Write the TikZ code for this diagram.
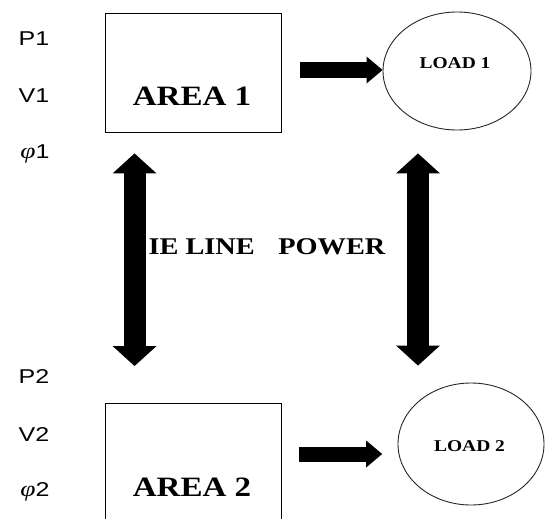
\documentclass[tikz,border=0pt]{standalone}
\usepackage{fontspec}
\usepackage{graphicx}
\setmainfont{Liberation Serif}
\setsansfont{Liberation Sans}
\usetikzlibrary{arrows.meta,shapes.geometric,calc}
\newcommand{\strx}[1]{\scalebox{1.18}[1]{#1}}
\newcommand{\strs}[1]{\scalebox{1.25}[1]{#1}}
\newcommand{\phig}{{\rmfamily\itshape\fontsize{22}{22}\selectfont φ}}
\tikzset{
  box/.style={draw, line width=0.9pt, minimum width=176pt, inner sep=0pt},
  ell/.style={draw, ellipse, line width=0.9pt, inner sep=0pt, draw=black!85},
  bigtxt/.style={font=\bfseries\fontsize{28}{28}\selectfont, inner sep=0pt},
  midtxt/.style={font=\bfseries\fontsize{24}{24}\selectfont, inner sep=0pt},
  smalltxt/.style={font=\bfseries\fontsize{16.5}{16.5}\selectfont, inner sep=0pt},
  vartxt/.style={font=\sffamily\fontsize{20}{20}\selectfont, inner sep=0pt},
  harrow/.style={line width=15pt, -{Triangle[length=16pt,width=27pt,line width=0pt]}},
  varrow/.style={line width=22pt, {Triangle[length=20pt,width=44pt,line width=0pt]}-{Triangle[length=20pt,width=44pt,line width=0pt]}}
}
\begin{document}
\begin{tikzpicture}[x=1pt,y=-1pt]
\useasboundingbox (0,0) rectangle (546,519);
\clip (0,0) rectangle (546,519);
% boxes and ellipses
\node[box, minimum height=119pt] (area1) at (193,72.5) {};
\node[box, minimum height=125pt, anchor=north] (area2) at (193,403) {};
\node[ell, minimum width=148pt, minimum height=118pt] (load1) at (457,71) {};
\node[ell, minimum width=146pt, minimum height=122pt] (load2) at (471,444) {};
% texts
\node[bigtxt, anchor=base] (a1t) at (192,105) {\strx{AREA 1}};
\node[bigtxt, anchor=base] (a2t) at (192,496) {\strx{AREA 2}};
\node[smalltxt, anchor=base] (l1t) at (455,68.5) {\strx{LOAD 1}};
\node[smalltxt, anchor=base] (l2t) at (469.5,451) {\strx{LOAD 2}};
\node[midtxt, anchor=base] (tie) at (267,254) {\strx{IE LINE\hspace{20pt}POWER}};
\node[vartxt, anchor=base] (p1) at (34,46) {\strs{P1}};
\node[vartxt, anchor=base] (v1) at (34,102) {\strs{V1}};
\node[vartxt, anchor=base] (f1) at (35,158) {\strs{\phig 1}};
\node[vartxt, anchor=base] (p2) at (34,383.5) {\strs{P2}};
\node[vartxt, anchor=base] (v2) at (34,441) {\strs{V2}};
\node[vartxt, anchor=base] (f2) at (35,496) {\strs{\phig 2}};
% arrows
\coordinate (h1) at ([yshift=1pt]load1.west);
\draw[harrow, shorten <=19pt] (area1.east |- h1) -- (h1);
\coordinate (h2) at ([yshift=-10pt]load2.west);
\draw[harrow, shorten <=18pt, shorten >=15.4pt] (area2.east |- h2) -- (h2);
\coordinate (v1t) at ([xshift=30pt,yshift=-21pt]area1.south west);
\coordinate (v1b) at ([xshift=30pt,yshift=37pt]area2.north west);
\draw[varrow] (v1t) -- (v1b);
\coordinate (v2t) at ([xshift=-39pt,yshift=-23pt]load1.south);
\coordinate (v2b) at ([xshift=-53pt,yshift=17pt]load2.north);
\draw[varrow] (v2t) -- (v2b);
\end{tikzpicture}
\end{document}
